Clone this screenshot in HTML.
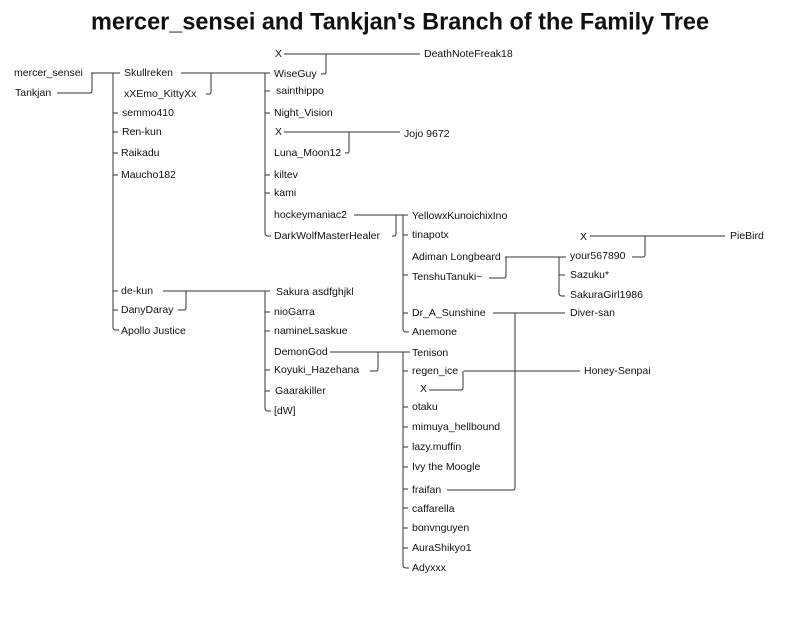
<!DOCTYPE html>
<html><head><meta charset="utf-8"><style>
html,body{margin:0;padding:0;background:#fff;}
svg{display:block;}
text{font-family:"Liberation Sans",sans-serif;font-size:10.5px;fill:#111;dominant-baseline:central;}
.t{font-size:24px;font-weight:bold;}
</style></head><body>
<svg width="800" height="618" viewBox="0 0 800 618" xmlns="http://www.w3.org/2000/svg">
<rect width="800" height="618" fill="#fff"/>
<text class="t" x="91" y="22" textLength="618" lengthAdjust="spacingAndGlyphs">mercer_sensei and Tankjan's Branch of the Family Tree</text>
<g stroke="#333" stroke-width="1" fill="none">
<path d="M91 73H120M57 93H90Q92 93 92 91V73"/>
<path d="M113 73V327Q113 330 116 330H119"/>
<path d="M113 113H118M113 132H118M113 153H118M113 175H118M113 291H118M113 310H118"/>
<path d="M181 73H270M206 94H209Q211 94 211 92V73"/>
<path d="M265 73V233Q265 236 268 236H271"/>
<path d="M265 91H270M265 113H270M265 175H270M265 193H270"/>
<path d="M284 54H420M321 74H324Q326 74 326 72V54"/>
<path d="M284 132H400M345 153H347Q349 153 349 151V132"/>
<path d="M354 215H408M392 236H394Q396 236 396 234V215"/>
<path d="M403 215V329Q403 332 406 332H409"/>
<path d="M403 235H408M403 275H408M403 313H408"/>
<path d="M505 257H566M489 278H504Q506 278 506 276V257"/>
<path d="M559 257V293Q559 296 562 296H565M559 275H565"/>
<path d="M590 236H725M632 257H643Q645 257 645 255V236"/>
<path d="M493 313H565M447 490H513Q515 490 515 488V313"/>
<path d="M163 291H270M178 310H184Q186 310 186 308V291"/>
<path d="M265 291V408Q265 411 268 411H271"/>
<path d="M265 312H270M265 331H270M265 370H270M265 391H270"/>
<path d="M330 352H410M370 371H376Q378 371 378 369V352"/>
<path d="M403 352V565Q403 568 406 568H409"/>
<path d="M403 371H408M403 407H408M403 427H408M403 447H408M403 467H408M403 489H408M403 508H408M403 528H408M403 548H408"/>
<path d="M464 371H580M429 390H461Q463 390 463 388V371"/>
</g>
<g>
<text x="14" y="73">mercer_sensei</text>
<text x="15" y="93">Tankjan</text>
<text x="124" y="73">Skullreken</text>
<text x="124" y="94">xXEmo_KittyXx</text>
<text x="122" y="113">semmo410</text>
<text x="122" y="132">Ren-kun</text>
<text x="121" y="153">Raikadu</text>
<text x="121" y="175">Maucho182</text>
<text x="275" y="54">X</text>
<text x="424" y="54">DeathNoteFreak18</text>
<text x="274" y="74">WiseGuy</text>
<text x="276" y="91">sainthippo</text>
<text x="274" y="113">Night_Vision</text>
<text x="275" y="132">X</text>
<text x="404" y="134">Jojo 9672</text>
<text x="274" y="153">Luna_Moon12</text>
<text x="274" y="175">kiltev</text>
<text x="274" y="193">kami</text>
<text x="274" y="215">hockeymaniac2</text>
<text x="274" y="236">DarkWolfMasterHealer</text>
<text x="412" y="216">YellowxKunoichixIno</text>
<text x="412" y="235">tinapotx</text>
<text x="412" y="257">Adiman Longbeard</text>
<text x="412" y="277">TenshuTanuki~</text>
<text x="412" y="313">Dr_A_Sunshine</text>
<text x="412" y="332">Anemone</text>
<text x="580" y="237">X</text>
<text x="730" y="236">PieBird</text>
<text x="570" y="256">your567890</text>
<text x="570" y="275">Sazuku*</text>
<text x="570" y="295">SakuraGirl1986</text>
<text x="570" y="313">Diver-san</text>
<text x="121" y="291">de-kun</text>
<text x="121" y="310">DanyDaray</text>
<text x="121" y="331">Apollo Justice</text>
<text x="276" y="292">Sakura asdfghjkl</text>
<text x="274" y="312">nioGarra</text>
<text x="274" y="331">namineLsaskue</text>
<text x="274" y="352">DemonGod</text>
<text x="274" y="370">Koyuki_Hazehana</text>
<text x="275" y="391">Gaarakiller</text>
<text x="274" y="411">[dW]</text>
<text x="412" y="353">Tenison</text>
<text x="412" y="371">regen_ice</text>
<text x="584" y="371">Honey-Senpai</text>
<text x="420" y="389">X</text>
<text x="412" y="407">otaku</text>
<text x="412" y="427">mimuya_hellbound</text>
<text x="412" y="447">lazy.muffin</text>
<text x="412" y="467">Ivy the Moogle</text>
<text x="412" y="490">fraifan</text>
<text x="412" y="509">caffarella</text>
<text x="412" y="528">bonvnguyen</text>
<text x="412" y="548">AuraShikyo1</text>
<text x="412" y="568">Adyxxx</text>
</g>
</svg>
</body></html>
